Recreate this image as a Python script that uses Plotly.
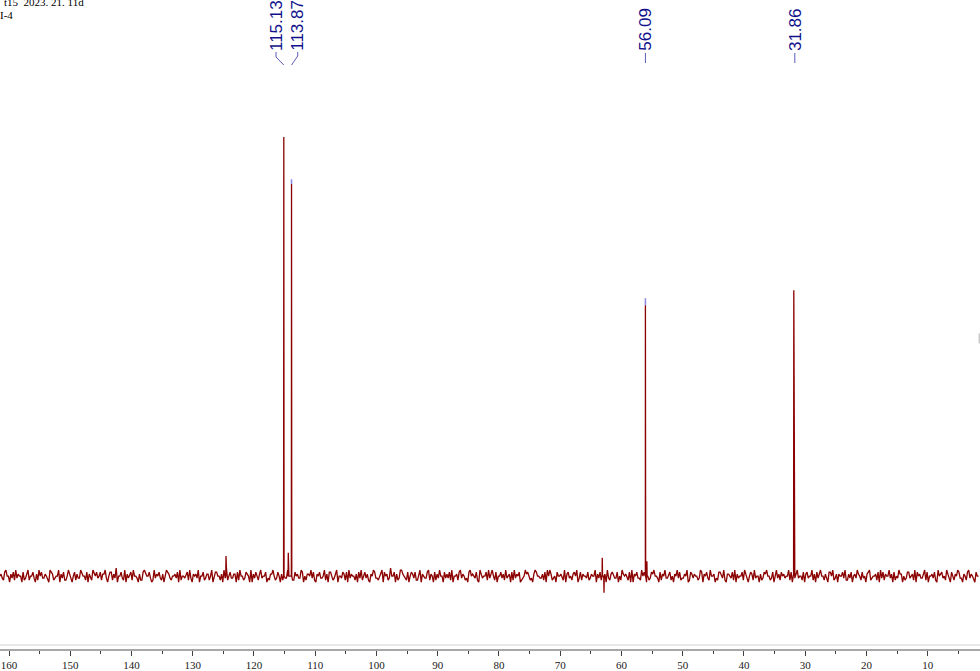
import plotly.graph_objects as go

# ---------------- data ----------------
NOISE_START = 161.5      # ppm of first baseline sample
NOISE_STEP = 0.2         # ppm between baseline samples
NOISE_LEVEL = 0.46       # intensity per digit step (digit 4 = 0)
NOISE_ROWS = [
    "45326744153627354416235724463152746335421765234471536224753146253375442615327546",
    "34625573146625381446327153562744315226754463127354632514765324453617244356273154",
    "53714462355247136644251738246335516274423654171536425734461325574236415263374452",
    "26453376142554736215463347251664235714436526173544251637246352154763324571645238",
    "44615237754326146536224715433672541625374416353627144526735423167454362175344627",
    "35742614463527345162735461234756423157644335261747523416445327156342564713625443",
    "62354471536244517325643361427545326171546332746514236574431625473356241547362335",
    "47126535442376154632744513266437215543627153446275314652734415236574423615735264",
    "53447261535734426156344725163574425316647235154463722536145375426341567234452617",
    "36254473516243755142366345271645335726144536217456342753164254763315426735421644",
]

PEAK_PPM = [124.57, 115.13, 114.40, 113.87, 63.13, 62.85, 56.09, 55.85, 31.86]
PEAK_HEIGHT = [4.6, 100.0, 5.3, 89.3, 4.2, -3.8, 61.7, 3.4, 65.1]

OVERLAY_PPM = [113.87, 56.09]
OVERLAY_FROM = [89.3, 61.7]
OVERLAY_TO = [90.4, 63.3]

LABEL_PPM = [115.13, 113.87, 56.09, 31.86]
LABEL_TEXT = ["115.13", "113.87", "56.09", "31.86"]

TICK_VALUES = [160, 150, 140, 130, 120, 110, 100, 90, 80, 70, 60, 50, 40, 30, 20, 10]
TICK_TEXT = ["160", "150", "140", "130", "120", "110", "100", "90", "80",
             "70", "60", "50", "40", "30", "20", "10"]
MINOR_TICKS = [155, 145, 135, 125, 115, 105, 95, 85, 75, 65, 55, 45, 35, 25, 15, 5]

HEADER_LINE1 = "t15  2023. 21. 11d"
HEADER_LINE2 = "I-4"

# ---------------- build spectrum ----------------
digits = "".join(NOISE_ROWS)
pts = [(NOISE_START - i * NOISE_STEP, (int(c) - 4) * NOISE_LEVEL) for i, c in enumerate(digits)]
for p, h in zip(PEAK_PPM, PEAK_HEIGHT):
    pts += [(p + 0.04, 0.0), (p, h), (p - 0.04, 0.0)]
pts.sort(key=lambda t: -t[0])
spec_x = [t[0] for t in pts]
spec_y = [t[1] for t in pts]

ov_x, ov_y = [], []
for p, a, b in zip(OVERLAY_PPM, OVERLAY_FROM, OVERLAY_TO):
    ov_x += [p, p, None]
    ov_y += [a, b, None]

fig = go.Figure()
fig.add_trace(go.Scatter(x=ov_x, y=ov_y, mode="lines",
                         line=dict(color="#8f8fe6", width=1.6), hoverinfo="skip"))
fig.add_trace(go.Scatter(x=spec_x, y=spec_y, mode="lines",
                         line=dict(color="#8b0000", width=1.3), hoverinfo="skip"))

PLOT_H = 652.0
label_shift = [-8, 6, 0, 1]
annotations = []
shapes = []
for p, t, s in zip(LABEL_PPM, LABEL_TEXT, label_shift):
    annotations.append(dict(
        x=p, xref="x", y=1 - 53 / PLOT_H, yref="paper",
        text=t, textangle=-90, showarrow=False,
        xanchor="center", yanchor="bottom", xshift=s,
        font=dict(family="Liberation Sans", size=17, color="#10108c"),
    ))

conn_paths = {
    115.13: "M -7.8,-52 L -7.8,-57 L 0,-65",
    113.87: "M 6.2,-52 L 6.2,-56 L 0,-65",
    56.09: "M 0,-53 L 0,-63",
    31.86: "M 1,-53 L 1,-63",
}
for p in LABEL_PPM:
    shapes.append(dict(type="path", xref="x", yref="paper",
                       xsizemode="pixel", ysizemode="pixel",
                       xanchor=p, yanchor=1, path=conn_paths[p],
                       line=dict(color="#5a5ab8", width=1)))

shapes.append(dict(type="line", xref="paper", yref="paper",
                   x0=0, x1=1, y0=4 / PLOT_H, y1=4 / PLOT_H,
                   line=dict(color="#d2d2d2", width=1)))
shapes.append(dict(type="line", xref="paper", yref="paper",
                   x0=0.9992, x1=0.9992, y0=1 - 335 / PLOT_H, y1=1 - 345 / PLOT_H,
                   line=dict(color="#b0b0b0", width=1)))

annotations.append(dict(x=0, xref="paper", y=1, yref="paper", xanchor="left", yanchor="top",
                        xshift=3, yshift=5, text=HEADER_LINE1, showarrow=False, borderpad=0,
                        font=dict(family="Liberation Serif", size=11, color="#000000")))
annotations.append(dict(x=0, xref="paper", y=1, yref="paper", xanchor="left", yanchor="top",
                        xshift=-1, yshift=-8, text=HEADER_LINE2, showarrow=False, borderpad=0,
                        font=dict(family="Liberation Serif", size=11, color="#000000")))

fig.update_layout(
    width=980, height=671,
    margin=dict(l=0, r=0, t=0, b=19),
    paper_bgcolor="white", plot_bgcolor="white",
    showlegend=False,
    xaxis=dict(range=[161.47, 1.46], showgrid=False, zeroline=False,
               showline=True, linecolor="#a8a8a8", linewidth=2,
               ticks="outside", ticklen=5, tickwidth=1, tickcolor="#404040",
               tickvals=TICK_VALUES, ticktext=TICK_TEXT,
               tickfont=dict(family="Liberation Serif", size=11, color="#202020"),
               minor=dict(tickvals=MINOR_TICKS, ticks="outside", ticklen=3,
                          tickcolor="#404040", tickwidth=1)),
    yaxis=dict(range=[-16.6, 131.2], visible=False, fixedrange=True),
    annotations=annotations,
    shapes=shapes,
)

fig.write_html("out.html", config={"displayModeBar": False},
               post_script="document.body.style.margin='0';document.body.style.overflow='hidden';")
